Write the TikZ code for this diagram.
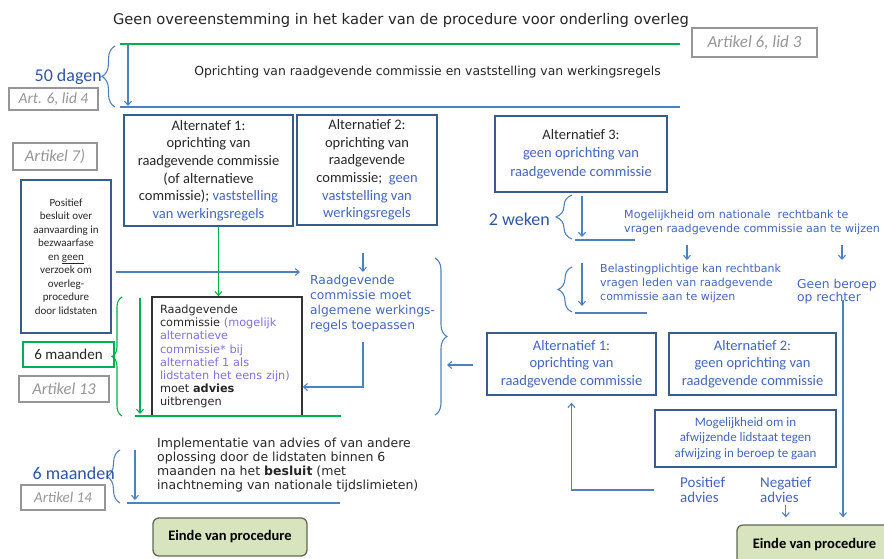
\documentclass[tikz,border=0pt]{standalone}
\usepackage{fontspec}
\setmainfont{Carlito}
\newfontfamily\vfont{DejaVu Sans}
\usetikzlibrary{arrows.meta,decorations.pathreplacing}
\definecolor{txt}{RGB}{38,38,38}
\definecolor{bltxt}{RGB}{66,102,190}
\definecolor{purp}{RGB}{128,112,222}
\definecolor{lnblue}{RGB}{79,129,189}
\definecolor{bxblue}{RGB}{56,93,138}
\definecolor{grn}{RGB}{0,176,80}
\definecolor{lblgray}{RGB}{150,150,150}
\definecolor{eindefill}{RGB}{215,228,189}
\definecolor{eindedraw}{RGB}{95,105,85}
\definecolor{dagblue}{RGB}{45,85,165}

\begin{document}
\begin{tikzpicture}[x=1pt,y=-1pt,
  bx/.style={draw=bxblue,line width=1.4pt,align=center,text=txt,inner sep=2pt,
    font=\fontsize{14.5}{17.6}\selectfont},
  artlbl/.style={draw=lblgray,line width=1.2pt,text=lblgray,inner sep=1pt,
    font=\itshape\fontsize{#1}{#1}\selectfont},
  vrij/.style={anchor=west,align=left,inner sep=0pt,text=bltxt},
  bl/.style={draw=lnblue,line width=1.1pt},
  gl/.style={draw=grn,line width=1.1pt},
  pijl/.style={-{Straight Barb[length=4pt,width=7pt]}},
  accol/.style={decorate,decoration={brace,amplitude=#1}},
  einde/.style={draw=eindedraw,fill=eindefill,line width=1.3pt,rounded corners=6pt,
    text=black,font=\bfseries\fontsize{14.5}{17}\selectfont},
  tijd/.style={anchor=east,inner sep=0pt,text=dagblue,font=\fontsize{18}{20}\selectfont}]
\useasboundingbox (0,0) rectangle (884,558);
\clip (0,0) rectangle (884,558);

\node[text=txt,font=\vfont\fontsize{14.7}{17}\selectfont] (titel) at (401,20)
  {Geen overeenstemming in het kader van de procedure voor onderling overleg};
\node[artlbl=17,minimum width=125pt,minimum height=29pt] (art63) at (754.5,42.5) {Artikel 6, lid 3};
\node[text=txt,font=\vfont\fontsize{12.4}{15}\selectfont] (oprichting) at (427.5,72)
  {Oprichting van raadgevende commissie en vaststelling van werkingsregels};
\draw[gl] (120,44) -- (680,44);
\draw[bl] (120,107) -- (680,107);
\draw[bl,pijl] (128,45) -- (128,106);
\draw[bl,accol=13pt] (115,107) -- (115,46);
\node[tijd] (dagen) at (102,77) {50 dagen};
\node[artlbl=15.5,minimum width=89pt,minimum height=22pt] (art64) at (53.5,99) {Art. 6, lid 4};

\node[bx,minimum width=169pt,minimum height=111pt] (alteen) at (208.5,170.5)
  {Alternatef 1:\\oprichting van\\raadgevende commissie\\(of alternatieve\\commissie); \textcolor{bltxt}{vaststelling}\\\textcolor{bltxt}{van werkingsregels}};
\node[bx,minimum width=140pt,minimum height=110pt] (alttwee) at (367,170)
  {Alternatief 2:\\oprichting van\\raadgevende\\commissie;\ \ \textcolor{bltxt}{geen}\\\textcolor{bltxt}{vaststelling van}\\\textcolor{bltxt}{werkingsregels}};
\node[bx,minimum width=172pt,minimum height=76pt,font=\fontsize{14.5}{18.5}\selectfont] (altdrie) at (581,154)
  {Alternatief 3:\\\textcolor{bltxt}{geen oprichting van}\\\textcolor{bltxt}{raadgevende commissie}};
\node[artlbl=16.5,minimum width=84pt,minimum height=27pt] (art7) at (55,156.5) {Artikel 7)};
\node[bx,minimum width=90pt,minimum height=153pt,font=\fontsize{11}{13.5}\selectfont] (positief) at (66,256.5)
  {Positief\\besluit over\\aanvaarding in\\bezwaarfase\\en \underline{geen}\\verzoek om\\overleg-\\procedure\\door lidstaten};

\node[draw=black!80,line width=1.4pt,minimum width=150pt,minimum height=119pt,text width=134pt,
  align=left,inner sep=0pt,text=txt,font=\vfont\fontsize{11.3}{13.2}\selectfont] (raad) at (227,356.5)
  {Raadgevende\\commissie \textcolor{purp}{(mogelijk}\\\textcolor{purp}{alternatieve}\\\textcolor{purp}{commissie* bij}\\
   \textcolor{purp}{alternatief 1 als}\\\textcolor{purp}{lidstaten het eens zijn)}\\moet \textbf{advies}\\uitbrengen};
\draw[gl,pijl] (alteen.-80) -- (alteen.-80 |- raad.north);
\draw[gl,pijl] (140,298) -- (140,414);
\draw[gl] (135,416) -- (341,416);
\draw[gl,accol=10pt] (122,416) -- (122,297);
\node[draw=grn,line width=1.3pt,minimum width=91pt,minimum height=25pt,text=txt,
  font=\fontsize{15}{17}\selectfont] (zesmnd) at (68.5,354.5) {6 maanden};
\node[artlbl=16.5,minimum width=90pt,minimum height=26pt] (art13) at (64,389) {Artikel 13};

\node[vrij,anchor=north west,font=\vfont\fontsize{12.3}{15}\selectfont] (moet) at (310,275)
  {Raadgevende\\commissie moet\\algemene werkings-\\regels toepassen};
\coordinate (p1) at (300,272);
\draw[bl,pijl,shorten <=4pt] (positief.east |- p1) -- (p1);
\coordinate (m1) at (363,253);
\coordinate (m2) at (363,342);
\coordinate (m3) at (363,387);
\draw[bl,pijl,shorten >=3pt] (m1) -- (m1 |- moet.north);
\draw[bl,pijl] (m2) -- (m3) -- (m3 -| raad.east);
\draw[bl,accol=12pt] (435,258) -- (435,415);
\coordinate (b1) at (473,365);
\coordinate (b2) at (447,365);
\draw[bl,pijl] (b1) -- (b2);

\node[tijd] (weken) at (550,219) {2 weken};
\draw[bl,accol=16pt] (572,239) -- (572,195);
\draw[bl,pijl] (582,196) -- (582,237);
\draw[bl] (575,240) -- (635,240);
\node[vrij,font=\vfont\fontsize{11.1}{14.5}\selectfont] (natrb) at (624,222.5)
  {Mogelijkheid om nationale\ \ rechtbank te\\vragen raadgevende commissie aan te wijzen};
\coordinate (n1) at (687,245);
\coordinate (n2) at (842,245);
\draw[bl,pijl] (n1) -- ++(0,15);
\draw[bl,pijl] (n2) -- ++(0,15);
\draw[bl,accol=14pt] (572,312) -- (572,267);
\draw[bl,pijl] (582,263) -- (582,306);
\draw[bl] (575,313) -- (647,313);
\node[vrij,font=\vfont\fontsize{11}{14}\selectfont] (belast) at (600,283)
  {Belastingplichtige kan rechtbank\\vragen leden van raadgevende\\commissie aan te wijzen};
\node[vrij,font=\vfont\fontsize{12.3}{13}\selectfont] (geenb) at (797,292) {Geen beroep\\op rechter};

\node[bx,text=bltxt,minimum width=169pt,minimum height=62pt] (ralteen) at (571.5,364)
  {Alternatief 1:\\oprichting van\\raadgevende commissie};
\node[bx,text=bltxt,minimum width=167pt,minimum height=62pt] (ralttwee) at (752.5,364)
  {Alternatief 2:\\geen oprichting van\\raadgevende commissie};
\node[bx,text=bltxt,minimum width=181pt,minimum height=57pt,font=\fontsize{13}{15.5}\selectfont] (beroep) at (745.5,438.5)
  {Mogelijkheid om in\\afwijzende lidstaat tegen\\afwijzing in beroep te gaan};
\node[vrij,font=\fontsize{15}{15}\selectfont] (posadv) at (680,490) {Positief\\advies};
\node[vrij,font=\fontsize{15}{15}\selectfont] (negadv) at (760,490) {Negatief\\advies};
\node[einde,minimum width=155pt,minimum height=40pt] (eindeR) at (814.5,545) {Einde van procedure};
\draw[bl,pijl,shorten >=7pt] (beroep.south west |- posadv) -| (ralteen.south);
\draw[bl,pijl,shorten <=2pt,shorten >=7pt] (negadv.south) -- (negadv.south |- eindeR.north);
\coordinate (g1) at (843,300);
\draw[bl,pijl,shorten >=7pt] (g1) -- (g1 |- eindeR.north);

\node[vrij,text=txt,font=\vfont\fontsize{12.5}{13.8}\selectfont] (impl) at (157,465)
  {Implementatie van advies of van andere\\oplossing door de lidstaten binnen 6\\maanden na het \textbf{besluit} (met\\inachtneming van nationale tijdslimieten)};
\draw[bl,accol=13pt] (120,503) -- (120,450);
\draw[bl,pijl] (135,450) -- (135,500);
\draw[bl] (127,503) -- (340,503);
\node[tijd] (zesmnd2) at (115,473) {6 maanden};
\node[artlbl=15,minimum width=84pt,minimum height=25pt] (art14) at (63,497.5) {Artikel 14};
\node[einde,minimum width=154pt,minimum height=38pt] (eindeL) at (230,537) {Einde van procedure};
\end{tikzpicture}
\end{document}
